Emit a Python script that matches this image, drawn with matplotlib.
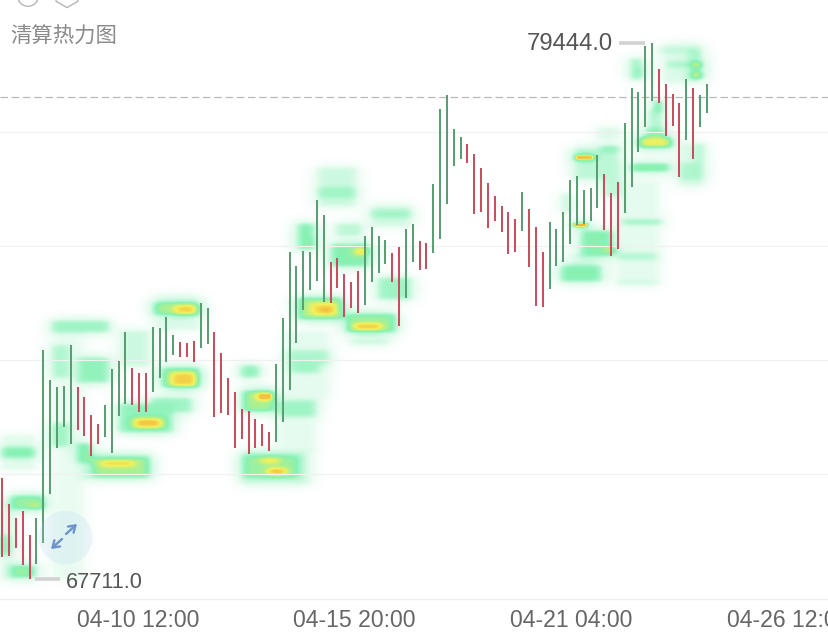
import numpy as np
import matplotlib
matplotlib.use("Agg")
import matplotlib.pyplot as plt
from matplotlib.colors import LinearSegmentedColormap

plt.rcParams['font.family'] = ['Noto Sans CJK SC', 'DejaVu Sans']

bar_highs = [69922,69353,69046,69199,68674,69046,72724,72067,71914,71936,72833,71914,71695,71301,71104,71520,
 72308,72483,73118,72330,72220,72220,73227,73205,73446,73052,72899,72877,72921,73753,73643,73118,
 72658,72111,71804,71432,71388,71213,71104,70929,72417,73424,74869,74563,74891,74869,76007,75679,
 74650,74738,74387,74212,74453,75219,75416,75219,75132,74847,74978,75372,75482,75110,75066,76358,
 77999,78306,77561,77386,77233,77014,76708,76379,76095,75876,75745,75591,76182,75810,75416,74869,
 75526,75372,75745,76445,76533,76226,76270,76992,76576,76160,76401,77693,78459,78371,79378,79444,
 78875,78547,78328,78131,78656,78459,78306,78547]
bar_lows = [68193,68214,68390,68017,67711,68039,68499,69572,70579,71038,70666,70973,70841,70403,70666,70819,
 70469,71279,71542,71520,71367,71367,71804,72111,72461,72614,72571,72571,72461,72768,72855,71257,
 71345,71301,70579,70776,70447,70579,70622,70513,70710,71148,71848,72877,73599,74037,74234,73774,
 73753,74081,73446,73643,73534,73709,74212,74409,74606,74212,73249,73862,74650,74475,74497,74847,
 75154,75920,76752,76905,76817,75701,75745,75394,75548,75307,74825,74869,75329,74541,73687,73665,
 74059,74563,74650,75044,75460,75482,75548,75832,75351,74781,74935,75723,76292,77058,77605,78174,
 78131,77408,77627,76511,77321,76905,77605,77912]
bar_dirs = ("rrrrr" "gggggg" "rrrr" "gggg" "rrr" "gggg" "rrr" "gg" "rrrrrrrrr" "gggggggg" "rrrrr" "gggg"
            "rr" "gg" "rr" "ggggg" "rrrrrrrr" "g" "rrr" "gggggggg" "rrr" "ggggg" "rrrr" "g" "r" "gg")

heat_start = [-0.3,-0.3,1.1,4.0,-0.3,1.1,-0.3,7.0,7.0,10.9,7.0,7.0,10.9,11.1,13.1,14.3,16.9,19.1,17.2,21.6,23.1,
 24.5,22.3,22.0,25.0,34.7,35.0,37.2,34.7,35.0,37.7,38.7,40.2,42.1,40.2,41.3,41.6,46.0,46.0,43.1,45.0,47.9,51.6,
 48.6,53.8,53.8,54.8,43.1,45.0,46.7,50.1,51.3,50.8,81.5,82.7,84.5,88.5,83.4,83.7,83.4,87.4,87.0,87.8,82.0,
 89.9,89.9,90.7,89.6,91.8,93.0,94.0,91.8,92.8,95.4,94.4,95.9,97.2,100.5,101.0,101.0,96.6,101.6,98.8,98.8]
heat_end = [4.9,4.8,6.2,6.2,0.8,4.8,1.9,12.1,15.7,15.7,9.9,9.9,13.1,21.9,21.6,19.4,25.0,23.5,21.6,27.9,28.9,
 28.5,28.9,28.9,28.5,37.7,39.9,39.6,45.0,43.5,40.6,41.6,46.0,46.4,46.0,47.9,47.9,51.9,51.9,45.7,45.7,53.8,53.5,
 52.7,59.9,59.9,59.9,49.8,49.0,47.9,57.7,55.7,56.7,87.7,87.4,89.3,89.6,85.6,86.6,90.3,90.3,90.3,90.7,83.0,
 95.7,95.7,96.6,96.2,97.6,97.9,96.9,93.7,93.7,96.4,96.6,101.6,101.6,102.4,102.4,102.4,102.4,102.7,102.4,102.7]
heat_top = [70863,70600,69549,69374,68674,68017,69440,73380,73380,72570,72833,71126,70688,70469,70381,70294,71563,71235,
 73161,71695,72351,72242,73927,73774,73709,72395,71848,71782,70534,70425,70359,70140,71629,72504,71257,73161,72723,
 76729,76292,75504,75197,75066,74956,75504,75788,75897,74321,73884,73752,73643,73533,73314,73008,74584,74847,75350,
 74978,75504,76992,77167,77211,77605,76883,76160,74847,74256,75569,76445,76817,77386,77583,79115,78918,78196,77977,
 79334,79028,79334,79028,78809,79444,77255,76817,77255]
heat_bottom = [70097,70359,69221,69243,68236,67732,67689,67689,73096,71995,72111,70600,70250,69878,69944,70184,70907,71016,
 72351,71345,71892,71914,73161,73490,73490,72111,71367,71629,69768,69921,70250,69987,71257,72220,70469,71629,72395,
 75854,76051,74912,74978,74540,74803,75197,75613,75416,73818,73380,73490,73555,73096,73161,72833,74212,74584,74759,
 74847,75416,76883,76445,77036,77320,76073,75722,74694,74146,75482,74146,76620,77145,77320,78634,78699,77933,77539,
 79225,78918,78634,78896,78677,78568,76445,76445,76292]
heat_level = [.12,.45,.5,.65,.6,.5,.15,.08,.35,.4,.3,.35,.5,.2,.55,.86,.4,.86,.2,.35,.5,
 .82,.15,.55,.82,.4,.55,.95,.2,.5,.82,.90,.35,.35,.10,.10,.3,.2,.35,.45,.6,.45,.86,
 .25,.35,.18,.35,.55,.78,1.0,.5,.86,.2,.45,.15,.45,.82,1.0,.95,.25,.4,.15,.25,.3,
 .3,.2,.45,.10,.5,.72,.45,.35,.5,.78,.3,.25,.35,.35,.85,.88,.15,.35,.3,.15]

grid_prices = [77500, 75000, 72500, 70000]
axis_price = 67273
last_price = 78260
high_price, low_price = 79444.0, 67711.0
tick_pos = [19.8, 51.4, 83.2, 114.9]
tick_labels = ["04-10 12:00", "04-15 20:00", "04-21 04:00", "04-26 12:00"]
title = "清算热力图"

W, H = 829, 637
xlim = (-0.336, 120.86)
ylim = (66441, 80385)

fig = plt.figure(figsize=(W / 100, H / 100), dpi=100, facecolor="white")
ax = fig.add_axes([0, 0, 1, 1])
ax.set_xlim(*xlim)
ax.set_ylim(*ylim)
for s in ax.spines.values():
    s.set_visible(False)

# heat map accumulated on a pixel-sized grid
xs = np.linspace(xlim[0], xlim[1], W)
ys = np.linspace(ylim[0], ylim[1], H)
grid = np.zeros((H, W))
hot = np.zeros((H, W))
for a, b, t, u, v in zip(heat_start, heat_end, heat_top, heat_bottom, heat_level):
    mask_x = (xs >= a) & (xs <= b)
    mask_y = (ys >= u) & (ys <= t)
    sel = np.ix_(mask_y, mask_x)
    grid[sel] = np.maximum(grid[sel], v)
    if v >= 0.95:
        hot[sel] = v


def smooth(arr, sigma, axis):
    r = int(3 * sigma)
    k = np.exp(-0.5 * (np.arange(-r, r + 1) / sigma) ** 2)
    k /= k.sum()
    return np.apply_along_axis(lambda m: np.convolve(m, k, mode="same"), axis, arr)


fine = smooth(smooth(grid, 4.5, 1), 2.4, 0)
halo = smooth(smooth(grid, 8.0, 1), 5.0, 0)
core = smooth(smooth(hot, 1.5, 1), 0.8, 0)
field = np.maximum.reduce([fine, 0.8 * halo, 0.9 * core])

cmap = LinearSegmentedColormap.from_list("liq", [
    (0.0, "#ffffff"), (0.05, "#f1fdf6"), (0.16, "#d8fae7"), (0.30, "#aef6cf"),
    (0.44, "#86f1b4"), (0.57, "#b0f08e"), (0.72, "#f2f25c"), (0.88, "#f6b83c"), (1.0, "#e65a28")])
ax.imshow(field, extent=(xlim[0], xlim[1], ylim[0], ylim[1]), origin="lower", aspect="auto",
          cmap=cmap, vmin=0, vmax=1, interpolation="bilinear", zorder=1)

# grid and reference lines
for p in grid_prices:
    ax.axhline(p, color="#f1f1f1", lw=0.9, zorder=2)
ax.axhline(axis_price, color="#eeeeee", lw=0.9, zorder=2)
ax.axhline(last_price, color="#b9b9b9", lw=0.9, ls=(0, (6, 3)), zorder=2)

# bars
idx = np.arange(len(bar_highs))
colors = ["#5c9e74" if d == "g" else "#c84f5f" for d in bar_dirs]
ax.vlines(idx, bar_lows, bar_highs, colors=colors, lw=1.45, zorder=3)

# extreme labels
ax.plot([90.2, 94.0], [high_price, high_price], color="#d2d2d2", lw=2.6, solid_capstyle="butt", zorder=4)
ax.plot([4.8, 8.5], [low_price, low_price], color="#d2d2d2", lw=2.6, solid_capstyle="butt", zorder=4)
ax.annotate(f"{high_price:.1f}", xy=(89.3, high_price), xytext=(0, -1), textcoords="offset points",
            ha="right", va="center", fontsize=17.2, family="Liberation Sans", color="#555555", zorder=5)
ax.annotate(f"{low_price:.1f}", xy=(9.3, low_price), xytext=(0, -2.2), textcoords="offset points",
            ha="left", va="center", fontsize=15.6, family="Liberation Sans", color="#555555", zorder=5)

# ticks
ax.set_xticks(tick_pos)
ax.set_xticklabels(tick_labels, fontsize=16.6, family="Liberation Sans", color="#666666")
ax.set_yticks([])
ax.tick_params(axis="x", length=0, pad=-20)
for lab in ax.get_xticklabels():
    lab.set_clip_on(True)

# title
ax.text(10 / W, 1 - 37 / H, title, transform=ax.transAxes, ha="left", va="center",
        fontsize=15.4, color="#8a8a8a", zorder=5)

# top icons, cut by the edge of the screenshot
ax.scatter([28 / W], [1 + 4 / H], s=220, facecolors="none", edgecolors="#b5b5b5", lw=1.0,
           transform=ax.transAxes, clip_on=True, zorder=5)
ax.scatter([67 / W], [1 + 5 / H], s=330, marker="h", facecolors="none", edgecolors="#b5b5b5", lw=1.0,
           transform=ax.transAxes, clip_on=True, zorder=5)

# expand button
ax.scatter([65 / W], [1 - 537 / H], s=1500, color="#a9cbef", alpha=0.18, lw=0, transform=ax.transAxes, zorder=6)
arrow = dict(arrowstyle="->,head_length=0.45,head_width=0.3", color="#6f93cc", lw=1.7, shrinkA=0, shrinkB=0)
ax.annotate("", xy=(77 / W, 1 - 524 / H), xytext=(66 / W, 1 - 534 / H),
            xycoords="axes fraction", textcoords="axes fraction", arrowprops=arrow, zorder=7)
ax.annotate("", xy=(51 / W, 1 - 549 / H), xytext=(62 / W, 1 - 539 / H),
            xycoords="axes fraction", textcoords="axes fraction", arrowprops=arrow, zorder=7)

fig.savefig("out.png", dpi=100)
